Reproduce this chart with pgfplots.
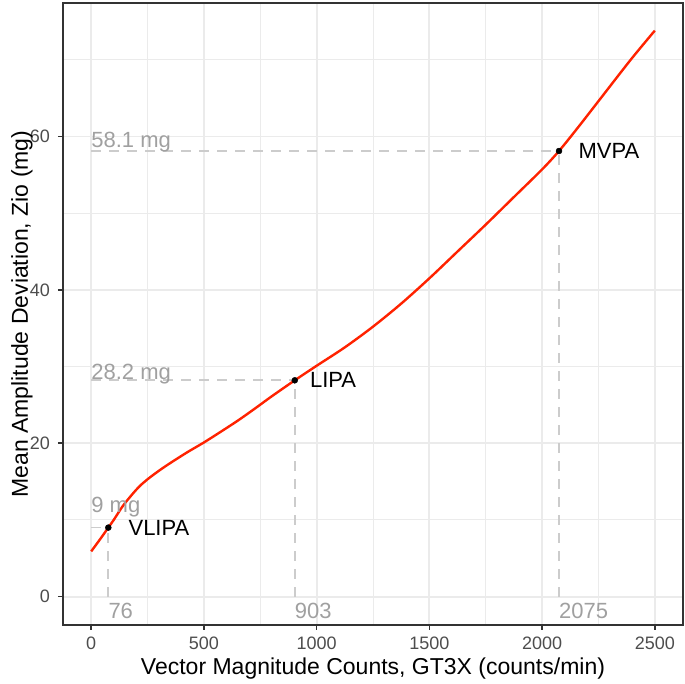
\documentclass[border=0pt]{standalone}
\usepackage{pgfplots}
\pgfplotsset{compat=1.18}
\usepackage{pgfplotstable}
\usepackage{fontspec}
\setmainfont{Liberation Sans}
\definecolor{gridc}{HTML}{EBEBEB}
\definecolor{tickc}{HTML}{4D4D4D}
\definecolor{framec}{HTML}{333333}
\definecolor{annc}{HTML}{A0A0A0}
\definecolor{segc}{HTML}{CCCCCC}
\definecolor{curvec}{HTML}{FF2200}

\pgfplotstableread{
x y
0 5.9
40 7.5
76 9.0
100 10.0
140 11.8
181 13.3
215 14.4
250 15.3
300 16.4
350 17.4
425 18.8
500 20.1
575 21.5
653 23.0
730 24.6
800 26.1
903 28.2
1000 30.1
1125 32.5
1250 35.2
1375 38.2
1500 41.5
1625 45.0
1750 48.5
1875 52.1
2000 55.7
2075 58.1
2160 61.2
2250 64.6
2393 70.0
2500 73.8
}\curve

\begin{document}
\begin{tikzpicture}
\begin{axis}[
  name=main,
  scale only axis, width=620pt, height=622pt,
  xmin=-125, xmax=2625, ymin=-3.7, ymax=77.4,
  xtick={0,500,1000,1500,2000,2500}, ytick={0,20,40,60},
  minor xtick={250,750,1250,1750,2250}, minor ytick={10,30,50,70},
  grid=both,
  major grid style={gridc, line width=1.8pt},
  minor grid style={gridc, line width=1pt},
  axis line style={framec, line width=1.6pt},
  tick align=outside, major tick length=5pt, minor tick length=0pt,
  tick style={framec, line width=1.6pt},
  xtick pos=left, ytick pos=left,
  ticklabel style={font=\fontsize{18}{18}\selectfont, color=tickc},
  /pgf/number format/assume math mode=true,
  /pgf/number format/1000 sep={},
  xticklabel style={anchor=base, yshift=-20pt},
  yticklabel style={anchor=east, inner sep=0pt, xshift=-8pt},
  xlabel={Vector Magnitude Counts, GT3X (counts/min)},
  ylabel={Mean Amplitude Deviation, Zio (mg)},
  label style={font=\fontsize{23}{23}\selectfont},
  xlabel style={at={(axis description cs:0.5,-0.0788)}, anchor=base},
  ylabel style={at={(axis description cs:-0.0565,0.5)}, anchor=base},
  clip=false,
]
\addplot[segc, line width=1.7pt, dash pattern=on 10pt off 8pt] coordinates {(0,9) (76,9)};
\addplot[segc, line width=1.7pt, dash pattern=on 10pt off 8pt] coordinates {(76,0) (76,9)};
\addplot[segc, line width=1.7pt, dash pattern=on 10pt off 8pt] coordinates {(0,28.2) (903,28.2)};
\addplot[segc, line width=1.7pt, dash pattern=on 10pt off 8pt] coordinates {(903,0) (903,28.2)};
\addplot[segc, line width=1.7pt, dash pattern=on 10pt off 8pt] coordinates {(0,58.1) (2075,58.1)};
\addplot[segc, line width=1.7pt, dash pattern=on 10pt off 8pt] coordinates {(2075,0) (2075,58.1)};
\addplot[curvec, line width=2.4pt, smooth, tension=0.5] table[x=x, y=y] {\curve};
\addplot[only marks, mark=*, mark size=3pt, black] coordinates {(76,9) (903,28.2) (2075,58.1)};
\node[annc, anchor=base west, inner sep=0pt, font=\fontsize{22}{22}\selectfont] at (axis cs:0,10.96) {9 mg};
\node[annc, anchor=base west, inner sep=0pt, font=\fontsize{22}{22}\selectfont] at (axis cs:0,28.35) {28.2 mg};
\node[annc, anchor=base west, inner sep=0pt, font=\fontsize{22}{22}\selectfont] at (axis cs:0,58.56) {58.1 mg};
\node[annc, anchor=base west, inner sep=0pt, font=\fontsize{22}{22}\selectfont] at (axis cs:76,-2.82) {76};
\node[annc, anchor=base west, inner sep=0pt, font=\fontsize{22}{22}\selectfont] at (axis cs:903,-2.82) {903};
\node[annc, anchor=base west, inner sep=0pt, font=\fontsize{22}{22}\selectfont] at (axis cs:2075,-2.82) {2075};
\node[black, anchor=west, inner sep=0pt, font=\fontsize{22}{22}\selectfont] at (axis cs:165,9) {VLIPA};
\node[black, anchor=west, inner sep=0pt, font=\fontsize{22}{22}\selectfont] at (axis cs:970,28.2) {LIPA};
\node[black, anchor=west, inner sep=0pt, font=\fontsize{22}{22}\selectfont] at (axis cs:2161,58.1) {MVPA};
\end{axis}
\path (main.south west) ++(-63pt,-59pt) coordinate (bl);
\path (main.north east) ++(2pt,3pt) coordinate (tr);
\path (bl) rectangle (tr);
\end{tikzpicture}
\end{document}
